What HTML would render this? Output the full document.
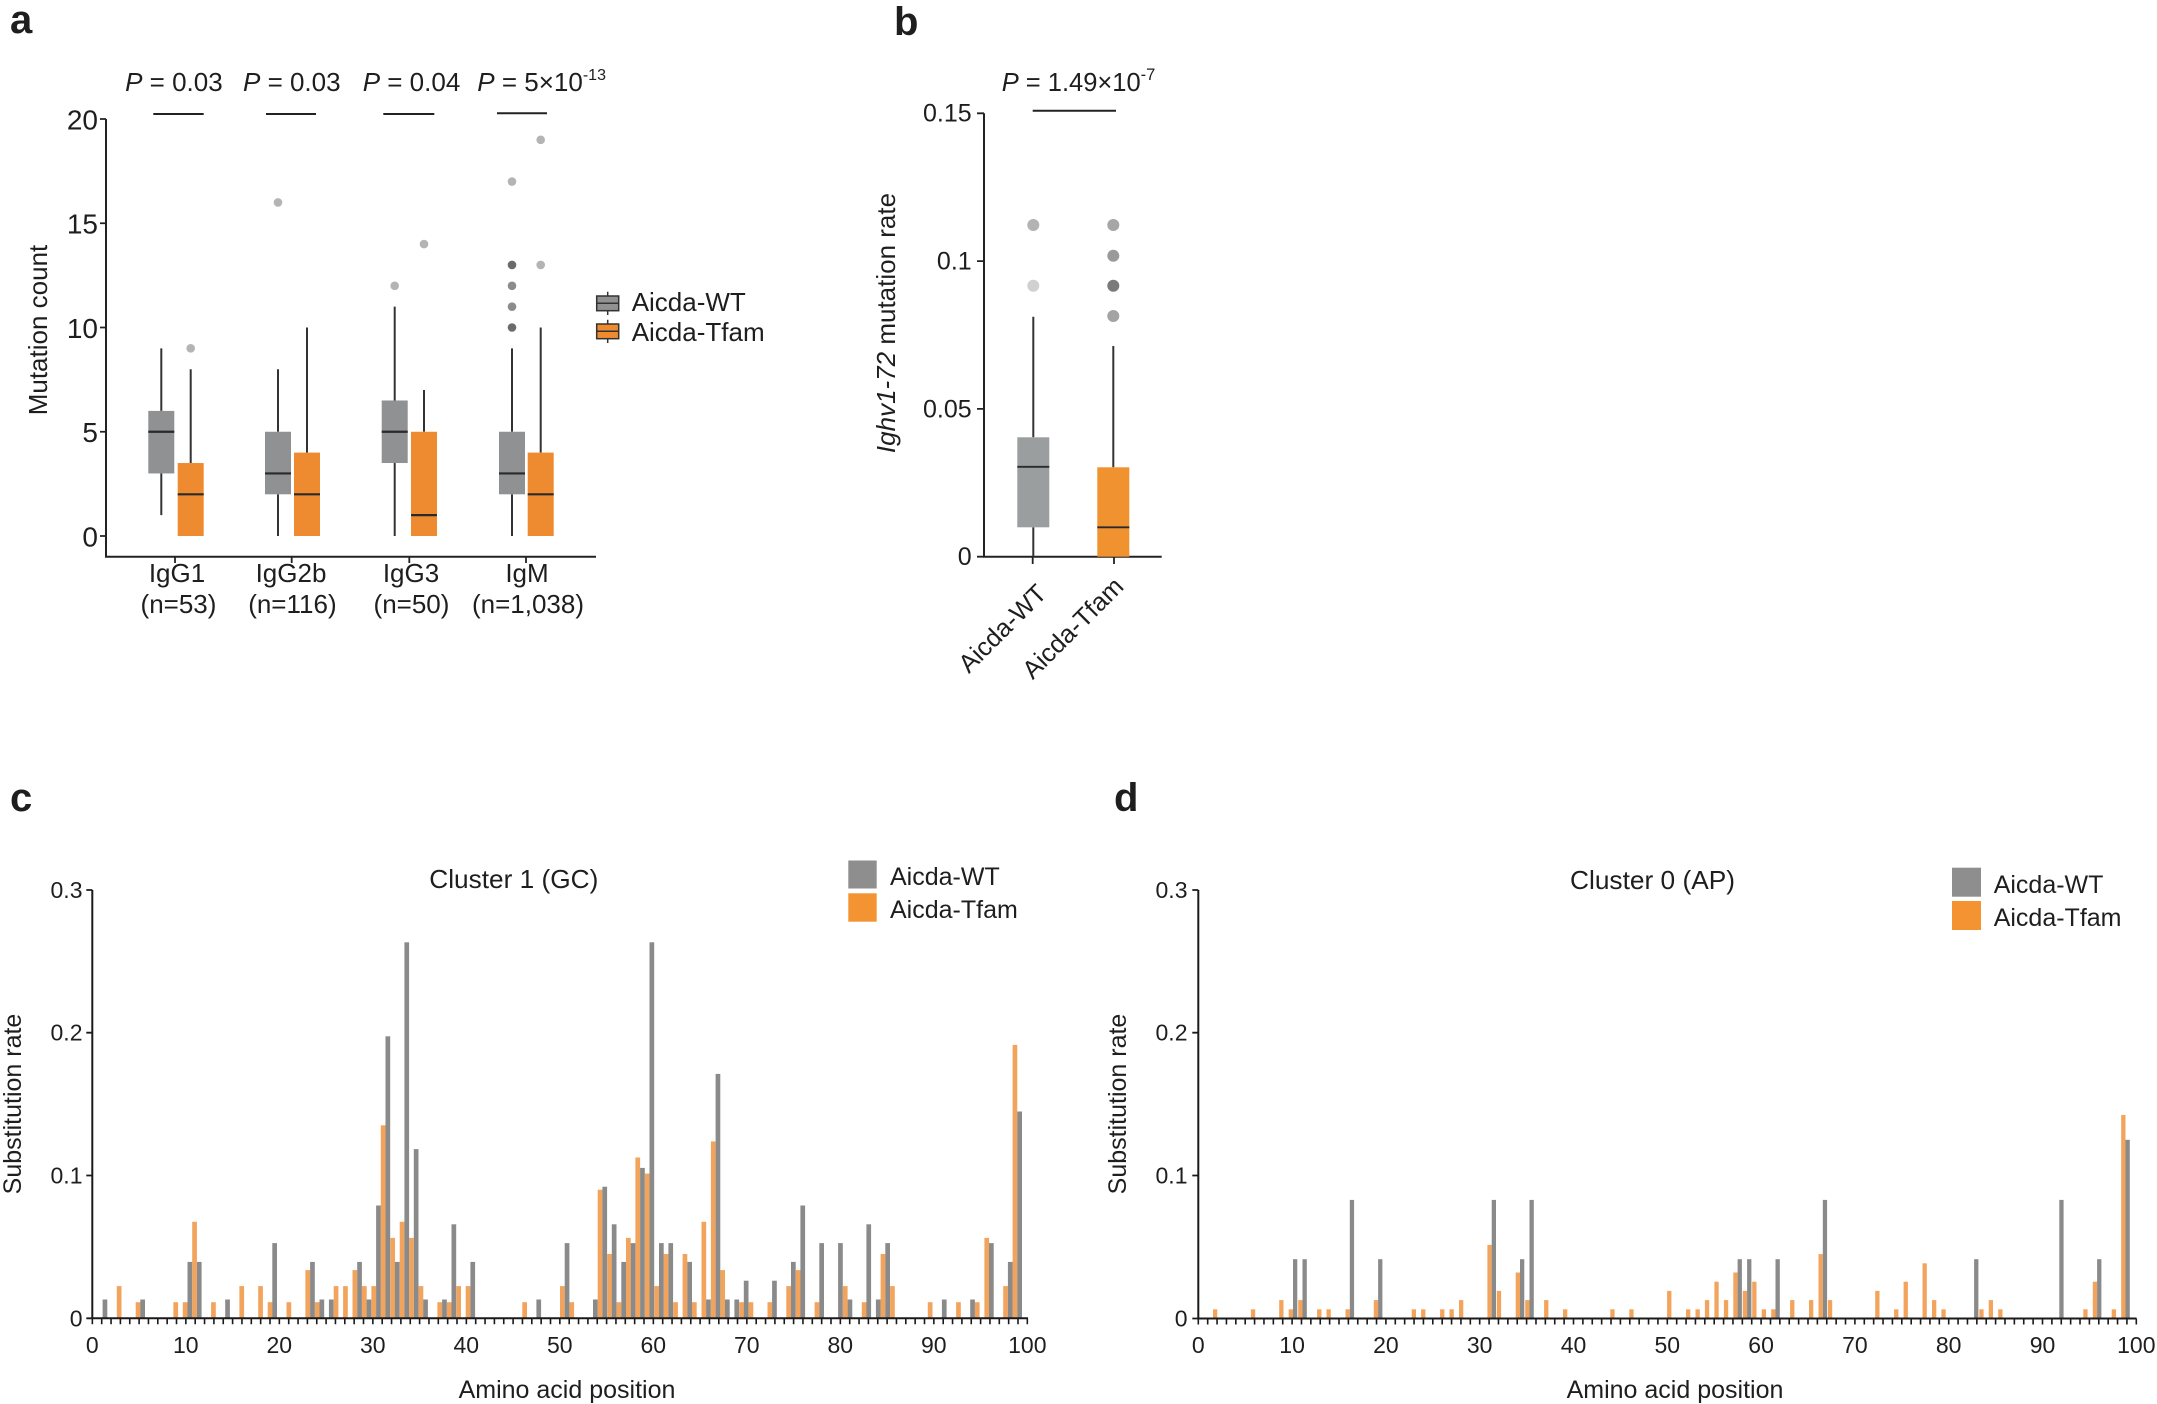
<!DOCTYPE html>
<html><head><meta charset="utf-8"><style>html,body{margin:0;padding:0;background:#fff}svg{display:block}</style></head>
<body>
<svg width="2157" height="1404" viewBox="0 0 2157 1404" xmlns="http://www.w3.org/2000/svg" font-family="'Liberation Sans', Arial, sans-serif" fill="#1e1e1e">
<rect width="2157" height="1404" fill="#fff"/>

<!-- ================= Panel a ================= -->
<text x="10" y="33" font-size="40" font-weight="bold">a</text>
<text x="173.9" y="91" font-size="26" text-anchor="middle"><tspan font-style="italic">P</tspan> = 0.03</text>
<text x="291.8" y="91" font-size="26" text-anchor="middle"><tspan font-style="italic">P</tspan> = 0.03</text>
<text x="411.5" y="91" font-size="26" text-anchor="middle"><tspan font-style="italic">P</tspan> = 0.04</text>
<text x="477.3" y="91" font-size="26"><tspan font-style="italic">P</tspan> = 5×10<tspan font-size="16" dy="-11">-13</tspan></text>
<path d="M153.3 114H203.7M266 114H316M383.3 114H434.3M497 113.3H547" stroke="#222" stroke-width="2" fill="none"/>

<path d="M106 119V556.7H596" fill="none" stroke="#222" stroke-width="2"/>
<path d="M100 119H106M100 223.25H106M100 327.5H106M100 431.75H106M100 536H106M175 556.7V563M291.7 556.7V563M409.3 556.7V563M526 556.7V563" stroke="#222" stroke-width="1.8" fill="none"/>
<g font-size="28" text-anchor="end">
<text x="98" y="129.3">20</text>
<text x="98" y="233.5">15</text>
<text x="98" y="337.8">10</text>
<text x="98" y="442">5</text>
<text x="98" y="546.3">0</text>
</g>
<text transform="translate(47,330) rotate(-90)" font-size="26" text-anchor="middle">Mutation count</text>

<!-- whiskers -->
<path d="M161.3 348.35V410.9M161.3 473.45V515.15M190.7 369.2V463.03M278 369.2V431.75M278 494.3V536M307 327.5V452.6M394.7 306.65V400.48M394.7 463.03V536M424 390.05V431.75M512 348.35V431.75M512 494.3V536M540.7 327.5V452.6" stroke="#333" stroke-width="2" fill="none"/>
<g fill="#8f9193">
<rect x="148.3" y="410.9" width="26" height="62.55"/>
<rect x="265" y="431.75" width="26" height="62.55"/>
<rect x="381.7" y="400.48" width="26" height="62.55"/>
<rect x="499" y="431.75" width="26" height="62.55"/>
</g>
<g fill="#ee8b30">
<rect x="177.7" y="463.03" width="26" height="72.97"/>
<rect x="294" y="452.6" width="26" height="83.4"/>
<rect x="411" y="431.75" width="26" height="104.25"/>
<rect x="527.7" y="452.6" width="26" height="83.4"/>
</g>
<path d="M148.3 431.75h26M177.7 494.3h26M265 473.45h26M294 494.3h26M381.7 431.75h26M411 515.15h26M499 473.45h26M527.7 494.3h26" stroke="#2a2a2a" stroke-width="2.2" fill="none"/>
<g>
<circle cx="190.7" cy="348.35" r="4.3" fill="#b4b4b4"/>
<circle cx="278" cy="202.4" r="4.3" fill="#b4b4b4"/>
<circle cx="394.7" cy="285.8" r="4.3" fill="#b4b4b4"/>
<circle cx="424" cy="244.1" r="4.3" fill="#b4b4b4"/>
<circle cx="512" cy="327.5" r="4.3" fill="#6b6b6b"/>
<circle cx="512" cy="306.65" r="4.3" fill="#8c8c8c"/>
<circle cx="512" cy="285.8" r="4.3" fill="#8c8c8c"/>
<circle cx="512" cy="264.95" r="4.3" fill="#6b6b6b"/>
<circle cx="512" cy="181.55" r="4.3" fill="#b4b4b4"/>
<circle cx="540.7" cy="264.95" r="4.3" fill="#b4b4b4"/>
<circle cx="540.7" cy="139.85" r="4.3" fill="#b4b4b4"/>
</g>
<g font-size="26" text-anchor="middle">
<text x="177" y="582">IgG1</text>
<text x="178.5" y="613">(n=53)</text>
<text x="291" y="582">IgG2b</text>
<text x="292.4" y="613">(n=116)</text>
<text x="411" y="582">IgG3</text>
<text x="411.5" y="613">(n=50)</text>
<text x="527" y="582">IgM</text>
<text x="528" y="613">(n=1,038)</text>
</g>
<!-- legend a -->
<path d="M607.7 291.7V315M607.7 319.7V343" stroke="#333" stroke-width="1.5"/>
<rect x="596.7" y="296" width="22" height="14.7" fill="#8f9193" stroke="#333" stroke-width="1.5"/>
<rect x="596.7" y="324" width="22" height="14.7" fill="#ee8b30" stroke="#333" stroke-width="1.5"/>
<path d="M596.7 303.3h22M596.7 331.3h22" stroke="#333" stroke-width="1.5"/>
<text x="631.7" y="311" font-size="26">Aicda-WT</text>
<text x="631.7" y="341" font-size="26">Aicda-Tfam</text>

<!-- ================= Panel b ================= -->
<text x="894" y="35" font-size="40" font-weight="bold">b</text>
<text x="1001.7" y="91" font-size="25.5"><tspan font-style="italic">P</tspan> = 1.49×10<tspan font-size="16.5" dy="-11">-7</tspan></text>
<path d="M1032.7 110.7H1116" stroke="#222" stroke-width="2"/>
<path d="M984 113.3V556.7H1161.7" fill="none" stroke="#222" stroke-width="2"/>
<path d="M977 113.3H984M977 261.1H984M977 408.9H984M977 556.7H984M1032.7 556.7V564M1114 556.7V564" stroke="#222" stroke-width="1.8" fill="none"/>
<g font-size="25" text-anchor="end">
<text x="971.7" y="121.7">0.15</text>
<text x="971.7" y="269.5">0.1</text>
<text x="971.7" y="417.3">0.05</text>
<text x="971.7" y="565">0</text>
</g>
<text transform="translate(895,323) rotate(-90)" font-size="26" text-anchor="middle"><tspan font-style="italic">Ighv1-72</tspan> mutation rate</text>
<path d="M1033.3 316.7V437.3M1033.3 527.3V556.7M1113.3 346V467.3" stroke="#333" stroke-width="2" fill="none"/>
<rect x="1017.3" y="437.3" width="32" height="90" fill="#9a9e9e"/>
<rect x="1097.3" y="467.3" width="32" height="89.4" fill="#f09230"/>
<path d="M1017.3 466.8h32M1097.3 527.3h32" stroke="#2a2a2a" stroke-width="1.8"/>
<circle cx="1033.3" cy="225" r="6" fill="#b3b3b3"/>
<circle cx="1033.3" cy="285.7" r="6" fill="#d0d0d0"/>
<circle cx="1113.3" cy="225" r="6" fill="#a6a6a6"/>
<circle cx="1113.3" cy="255.7" r="6" fill="#9a9a9a"/>
<circle cx="1113.3" cy="285.7" r="6" fill="#7a7a7a"/>
<circle cx="1113.3" cy="316" r="6" fill="#a3a3a3"/>
<text transform="translate(1048,595) rotate(-45)" font-size="25.5" text-anchor="end">Aicda-WT</text>
<text transform="translate(1125,588) rotate(-45)" font-size="25.5" text-anchor="end">Aicda-Tfam</text>

<!-- ================= Panel c ================= -->
<text x="10" y="811" font-size="40" font-weight="bold">c</text>
<text x="429.3" y="888" font-size="26" textLength="169" lengthAdjust="spacingAndGlyphs">Cluster 1 (GC)</text>
<rect x="848.3" y="860.5" width="28.4" height="28" fill="#8e8e8e"/>
<rect x="848.3" y="893.3" width="28.4" height="28.4" fill="#f39332"/>
<text x="890" y="885" font-size="25">Aicda-WT</text>
<text x="890" y="918" font-size="25">Aicda-Tfam</text>
<text transform="translate(21,1104) rotate(-90)" font-size="25" text-anchor="middle">Substitution rate</text>
<text x="567" y="1398" font-size="25" text-anchor="middle">Amino acid position</text>
<g font-size="23" text-anchor="end">
<text x="82.5" y="898">0.3</text>
<text x="82.5" y="1040.7">0.2</text>
<text x="82.5" y="1183.5">0.1</text>
<text x="82.5" y="1326.3">0</text>
</g>
<g font-size="23" text-anchor="middle">
<text x="92.3" y="1353">0</text>
<text x="185.8" y="1353">10</text>
<text x="279.3" y="1353">20</text>
<text x="372.8" y="1353">30</text>
<text x="466.3" y="1353">40</text>
<text x="559.8" y="1353">50</text>
<text x="653.3" y="1353">60</text>
<text x="746.8" y="1353">70</text>
<text x="840.3" y="1353">80</text>
<text x="933.8" y="1353">90</text>
<text x="1027.3" y="1353">100</text>
</g>
<g fill="#f2a45c">
<rect x="116.8" y="1286.1" width="4.7" height="32.2"/>
<rect x="135.7" y="1302.2" width="4.7" height="16.1"/>
<rect x="173.4" y="1302.2" width="4.7" height="16.1"/>
<rect x="182.8" y="1302.2" width="4.7" height="16.1"/>
<rect x="192.2" y="1221.8" width="4.7" height="96.5"/>
<rect x="211.1" y="1302.2" width="4.7" height="16.1"/>
<rect x="239.4" y="1286.1" width="4.7" height="32.2"/>
<rect x="258.2" y="1286.1" width="4.7" height="32.2"/>
<rect x="267.7" y="1302.2" width="4.7" height="16.1"/>
<rect x="286.5" y="1302.2" width="4.7" height="16.1"/>
<rect x="305.4" y="1270.1" width="4.7" height="48.2"/>
<rect x="314.8" y="1302.2" width="4.7" height="16.1"/>
<rect x="333.7" y="1286.1" width="4.7" height="32.2"/>
<rect x="343.1" y="1286.1" width="4.7" height="32.2"/>
<rect x="352.5" y="1270.1" width="4.7" height="48.2"/>
<rect x="362.0" y="1286.1" width="4.7" height="32.2"/>
<rect x="371.4" y="1286.1" width="4.7" height="32.2"/>
<rect x="380.8" y="1125.3" width="4.7" height="193.0"/>
<rect x="390.3" y="1237.9" width="4.7" height="80.4"/>
<rect x="399.7" y="1221.8" width="4.7" height="96.5"/>
<rect x="409.1" y="1237.9" width="4.7" height="80.4"/>
<rect x="418.6" y="1286.1" width="4.7" height="32.2"/>
<rect x="437.4" y="1302.2" width="4.7" height="16.1"/>
<rect x="446.8" y="1302.2" width="4.7" height="16.1"/>
<rect x="456.3" y="1286.1" width="4.7" height="32.2"/>
<rect x="465.7" y="1286.1" width="4.7" height="32.2"/>
<rect x="522.3" y="1302.2" width="4.7" height="16.1"/>
<rect x="560.0" y="1286.1" width="4.7" height="32.2"/>
<rect x="569.4" y="1302.2" width="4.7" height="16.1"/>
<rect x="597.7" y="1189.7" width="4.7" height="128.6"/>
<rect x="607.2" y="1254.0" width="4.7" height="64.3"/>
<rect x="616.6" y="1302.2" width="4.7" height="16.1"/>
<rect x="626.0" y="1237.9" width="4.7" height="80.4"/>
<rect x="635.4" y="1157.5" width="4.7" height="160.8"/>
<rect x="644.9" y="1173.6" width="4.7" height="144.7"/>
<rect x="654.3" y="1286.1" width="4.7" height="32.2"/>
<rect x="663.7" y="1254.0" width="4.7" height="64.3"/>
<rect x="673.2" y="1302.2" width="4.7" height="16.1"/>
<rect x="682.6" y="1254.0" width="4.7" height="64.3"/>
<rect x="692.0" y="1302.2" width="4.7" height="16.1"/>
<rect x="701.5" y="1221.8" width="4.7" height="96.5"/>
<rect x="710.9" y="1141.4" width="4.7" height="176.9"/>
<rect x="720.3" y="1270.1" width="4.7" height="48.2"/>
<rect x="739.2" y="1302.2" width="4.7" height="16.1"/>
<rect x="748.6" y="1302.2" width="4.7" height="16.1"/>
<rect x="767.5" y="1302.2" width="4.7" height="16.1"/>
<rect x="786.3" y="1286.1" width="4.7" height="32.2"/>
<rect x="795.8" y="1270.1" width="4.7" height="48.2"/>
<rect x="814.6" y="1302.2" width="4.7" height="16.1"/>
<rect x="842.9" y="1286.1" width="4.7" height="32.2"/>
<rect x="861.8" y="1302.2" width="4.7" height="16.1"/>
<rect x="880.6" y="1254.0" width="4.7" height="64.3"/>
<rect x="890.1" y="1286.1" width="4.7" height="32.2"/>
<rect x="927.8" y="1302.2" width="4.7" height="16.1"/>
<rect x="956.1" y="1302.2" width="4.7" height="16.1"/>
<rect x="974.9" y="1302.2" width="4.7" height="16.1"/>
<rect x="984.4" y="1237.9" width="4.7" height="80.4"/>
<rect x="1003.2" y="1286.1" width="4.7" height="32.2"/>
<rect x="1012.6" y="1044.9" width="4.7" height="273.4"/>
</g>
<g fill="#8a8a8a">
<rect x="102.6" y="1299.5" width="4.7" height="18.8"/>
<rect x="140.3" y="1299.5" width="4.7" height="18.8"/>
<rect x="187.5" y="1261.9" width="4.7" height="56.4"/>
<rect x="196.9" y="1261.9" width="4.7" height="56.4"/>
<rect x="225.2" y="1299.5" width="4.7" height="18.8"/>
<rect x="272.3" y="1243.1" width="4.7" height="75.2"/>
<rect x="310.1" y="1261.9" width="4.7" height="56.4"/>
<rect x="319.5" y="1299.5" width="4.7" height="18.8"/>
<rect x="328.9" y="1299.5" width="4.7" height="18.8"/>
<rect x="357.2" y="1261.9" width="4.7" height="56.4"/>
<rect x="366.6" y="1299.5" width="4.7" height="18.8"/>
<rect x="376.1" y="1205.5" width="4.7" height="112.8"/>
<rect x="385.5" y="1036.3" width="4.7" height="282.0"/>
<rect x="394.9" y="1261.9" width="4.7" height="56.4"/>
<rect x="404.4" y="942.3" width="4.7" height="376.0"/>
<rect x="413.8" y="1149.1" width="4.7" height="169.2"/>
<rect x="423.2" y="1299.5" width="4.7" height="18.8"/>
<rect x="442.1" y="1299.5" width="4.7" height="18.8"/>
<rect x="451.5" y="1224.3" width="4.7" height="94.0"/>
<rect x="470.4" y="1261.9" width="4.7" height="56.4"/>
<rect x="536.4" y="1299.5" width="4.7" height="18.8"/>
<rect x="564.7" y="1243.1" width="4.7" height="75.2"/>
<rect x="593.0" y="1299.5" width="4.7" height="18.8"/>
<rect x="602.4" y="1186.7" width="4.7" height="131.6"/>
<rect x="611.8" y="1224.3" width="4.7" height="94.0"/>
<rect x="621.3" y="1261.9" width="4.7" height="56.4"/>
<rect x="630.7" y="1243.1" width="4.7" height="75.2"/>
<rect x="640.1" y="1167.9" width="4.7" height="150.4"/>
<rect x="649.5" y="942.3" width="4.7" height="376.0"/>
<rect x="659.0" y="1243.1" width="4.7" height="75.2"/>
<rect x="668.4" y="1243.1" width="4.7" height="75.2"/>
<rect x="687.3" y="1261.9" width="4.7" height="56.4"/>
<rect x="706.1" y="1299.5" width="4.7" height="18.8"/>
<rect x="715.6" y="1073.9" width="4.7" height="244.4"/>
<rect x="725.0" y="1299.5" width="4.7" height="18.8"/>
<rect x="734.4" y="1299.5" width="4.7" height="18.8"/>
<rect x="743.8" y="1280.7" width="4.7" height="37.6"/>
<rect x="772.1" y="1280.7" width="4.7" height="37.6"/>
<rect x="791.0" y="1261.9" width="4.7" height="56.4"/>
<rect x="800.4" y="1205.5" width="4.7" height="112.8"/>
<rect x="819.3" y="1243.1" width="4.7" height="75.2"/>
<rect x="838.1" y="1243.1" width="4.7" height="75.2"/>
<rect x="847.6" y="1299.5" width="4.7" height="18.8"/>
<rect x="866.4" y="1224.3" width="4.7" height="94.0"/>
<rect x="875.9" y="1299.5" width="4.7" height="18.8"/>
<rect x="885.3" y="1243.1" width="4.7" height="75.2"/>
<rect x="941.9" y="1299.5" width="4.7" height="18.8"/>
<rect x="970.2" y="1299.5" width="4.7" height="18.8"/>
<rect x="989.0" y="1243.1" width="4.7" height="75.2"/>
<rect x="1007.9" y="1261.9" width="4.7" height="56.4"/>
<rect x="1017.3" y="1111.5" width="4.7" height="206.8"/>
</g>
<path d="M92.3 890V1318.3H1028" fill="none" stroke="#1a1a1a" stroke-width="2"/>
<path d="M86.3 890H92.3M86.3 1032.7H92.3M86.3 1175.5H92.3M86.3 1318.3H92.3" stroke="#1a1a1a" stroke-width="1.8"/>
<line x1="91.55" y1="1321.3" x2="1028.1" y2="1321.3" stroke="#1a1a1a" stroke-width="6" stroke-dasharray="1.6 7.75"/>

<!-- ================= Panel d ================= -->
<text x="1114" y="811" font-size="40" font-weight="bold">d</text>
<text x="1570" y="889" font-size="26" textLength="165" lengthAdjust="spacingAndGlyphs">Cluster 0 (AP)</text>
<rect x="1952" y="867.7" width="29" height="29" fill="#8e8e8e"/>
<rect x="1952" y="901" width="29" height="29" fill="#f39332"/>
<text x="1993.7" y="893" font-size="25">Aicda-WT</text>
<text x="1993.7" y="926" font-size="25">Aicda-Tfam</text>
<text transform="translate(1126,1104) rotate(-90)" font-size="25" text-anchor="middle">Substitution rate</text>
<text x="1675" y="1398" font-size="25" text-anchor="middle">Amino acid position</text>
<g font-size="23" text-anchor="end">
<text x="1187.5" y="898">0.3</text>
<text x="1187.5" y="1040.7">0.2</text>
<text x="1187.5" y="1183.5">0.1</text>
<text x="1187.5" y="1326.3">0</text>
</g>
<g font-size="23" text-anchor="middle">
<text x="1198.3" y="1353">0</text>
<text x="1292.1" y="1353">10</text>
<text x="1385.9" y="1353">20</text>
<text x="1479.7" y="1353">30</text>
<text x="1573.5" y="1353">40</text>
<text x="1667.3" y="1353">50</text>
<text x="1761.1" y="1353">60</text>
<text x="1854.9" y="1353">70</text>
<text x="1948.7" y="1353">80</text>
<text x="2042.5" y="1353">90</text>
<text x="2136.3" y="1353">100</text>
</g>
<g fill="#f2a45c">
<rect x="1213.0" y="1309.3" width="4.3" height="9.2"/>
<rect x="1250.9" y="1309.3" width="4.3" height="9.2"/>
<rect x="1279.2" y="1300.1" width="4.3" height="18.4"/>
<rect x="1288.7" y="1309.3" width="4.3" height="9.2"/>
<rect x="1298.2" y="1300.1" width="4.3" height="18.4"/>
<rect x="1317.1" y="1309.3" width="4.3" height="9.2"/>
<rect x="1326.5" y="1309.3" width="4.3" height="9.2"/>
<rect x="1345.5" y="1309.3" width="4.3" height="9.2"/>
<rect x="1373.8" y="1300.1" width="4.3" height="18.4"/>
<rect x="1411.7" y="1309.3" width="4.3" height="9.2"/>
<rect x="1421.1" y="1309.3" width="4.3" height="9.2"/>
<rect x="1440.1" y="1309.3" width="4.3" height="9.2"/>
<rect x="1449.5" y="1309.3" width="4.3" height="9.2"/>
<rect x="1459.0" y="1300.1" width="4.3" height="18.4"/>
<rect x="1487.4" y="1244.9" width="4.3" height="73.6"/>
<rect x="1496.8" y="1290.9" width="4.3" height="27.6"/>
<rect x="1515.7" y="1272.5" width="4.3" height="46.0"/>
<rect x="1525.2" y="1300.1" width="4.3" height="18.4"/>
<rect x="1544.1" y="1300.1" width="4.3" height="18.4"/>
<rect x="1563.0" y="1309.3" width="4.3" height="9.2"/>
<rect x="1610.3" y="1309.3" width="4.3" height="9.2"/>
<rect x="1629.3" y="1309.3" width="4.3" height="9.2"/>
<rect x="1667.1" y="1290.9" width="4.3" height="27.6"/>
<rect x="1686.0" y="1309.3" width="4.3" height="9.2"/>
<rect x="1695.5" y="1309.3" width="4.3" height="9.2"/>
<rect x="1704.9" y="1300.1" width="4.3" height="18.4"/>
<rect x="1714.4" y="1281.7" width="4.3" height="36.8"/>
<rect x="1723.9" y="1300.1" width="4.3" height="18.4"/>
<rect x="1733.3" y="1272.5" width="4.3" height="46.0"/>
<rect x="1742.8" y="1290.9" width="4.3" height="27.6"/>
<rect x="1752.2" y="1281.7" width="4.3" height="36.8"/>
<rect x="1761.7" y="1309.3" width="4.3" height="9.2"/>
<rect x="1771.2" y="1309.3" width="4.3" height="9.2"/>
<rect x="1790.1" y="1300.1" width="4.3" height="18.4"/>
<rect x="1809.0" y="1300.1" width="4.3" height="18.4"/>
<rect x="1818.5" y="1254.1" width="4.3" height="64.4"/>
<rect x="1827.9" y="1300.1" width="4.3" height="18.4"/>
<rect x="1875.2" y="1290.9" width="4.3" height="27.6"/>
<rect x="1894.1" y="1309.3" width="4.3" height="9.2"/>
<rect x="1903.6" y="1281.7" width="4.3" height="36.8"/>
<rect x="1922.5" y="1263.3" width="4.3" height="55.2"/>
<rect x="1932.0" y="1300.1" width="4.3" height="18.4"/>
<rect x="1941.4" y="1309.3" width="4.3" height="9.2"/>
<rect x="1979.3" y="1309.3" width="4.3" height="9.2"/>
<rect x="1988.7" y="1300.1" width="4.3" height="18.4"/>
<rect x="1998.2" y="1309.3" width="4.3" height="9.2"/>
<rect x="2083.3" y="1309.3" width="4.3" height="9.2"/>
<rect x="2092.8" y="1281.7" width="4.3" height="36.8"/>
<rect x="2111.7" y="1309.3" width="4.3" height="9.2"/>
<rect x="2121.2" y="1115.0" width="4.3" height="203.5"/>
</g>
<g fill="#8a8a8a">
<rect x="1293.0" y="1259.2" width="4.3" height="59.3"/>
<rect x="1302.5" y="1259.2" width="4.3" height="59.3"/>
<rect x="1349.8" y="1199.9" width="4.3" height="118.6"/>
<rect x="1378.1" y="1259.2" width="4.3" height="59.3"/>
<rect x="1491.7" y="1199.9" width="4.3" height="118.6"/>
<rect x="1520.0" y="1259.2" width="4.3" height="59.3"/>
<rect x="1529.5" y="1199.9" width="4.3" height="118.6"/>
<rect x="1737.6" y="1259.2" width="4.3" height="59.3"/>
<rect x="1747.1" y="1259.2" width="4.3" height="59.3"/>
<rect x="1775.5" y="1259.2" width="4.3" height="59.3"/>
<rect x="1822.8" y="1199.9" width="4.3" height="118.6"/>
<rect x="1974.1" y="1259.2" width="4.3" height="59.3"/>
<rect x="2059.3" y="1199.9" width="4.3" height="118.6"/>
<rect x="2097.1" y="1259.2" width="4.3" height="59.3"/>
<rect x="2125.5" y="1139.8" width="4.3" height="178.7"/>
</g>
<path d="M1198.3 890V1318.5H2136.5" fill="none" stroke="#1a1a1a" stroke-width="2"/>
<path d="M1192.3 890H1198.3M1192.3 1032.7H1198.3M1192.3 1175.5H1198.3M1192.3 1318.5H1198.3" stroke="#1a1a1a" stroke-width="1.8"/>
<line x1="1197.5" y1="1321.5" x2="2137.2" y2="1321.5" stroke="#1a1a1a" stroke-width="6" stroke-dasharray="1.6 7.78"/>
</svg>
</body></html>
